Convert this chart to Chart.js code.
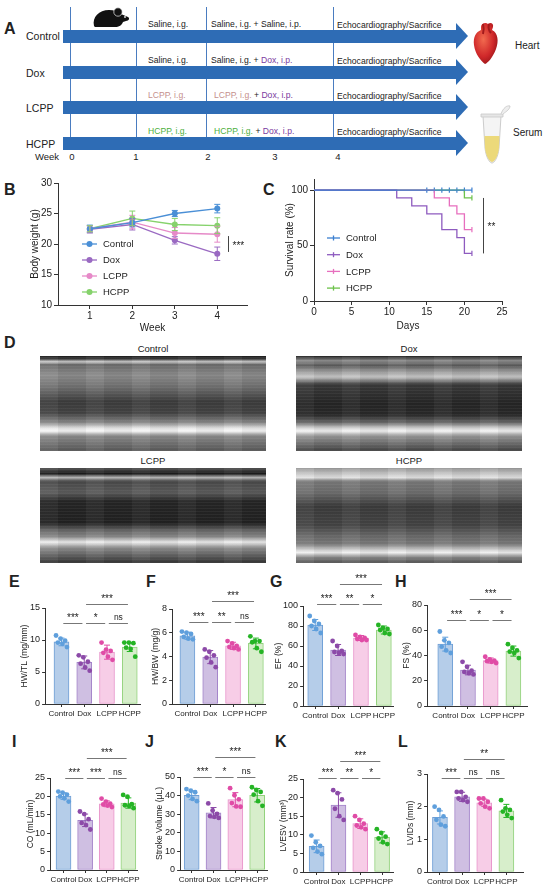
<!DOCTYPE html>
<html>
<head>
<meta charset="utf-8">
<script src="https://cdn.jsdelivr.net/npm/chart.js@4.4.1/dist/chart.umd.min.js"></script>
<style>
  body { margin: 0; background: #fff; font-family: 'Liberation Sans', Arial, sans-serif; color: #222; }
  #fig { position: relative; width: 550px; height: 889px; overflow: hidden; }
  .abs { position: absolute; white-space: nowrap; line-height: 1; color: #222; font-weight: normal; }
  .ttl { position: absolute; width: 120px; text-align: center; line-height: 10px; height: 10px; color: #222; font-size: 9.5px; }
  .lab { position: absolute; font-weight: bold; font-size: 16px; line-height: 1; transform: translateY(-50%); }
  canvas { position: absolute; }
  .vline { position: absolute; width: 1px; background: #4a7cc0; }
  .shaft { position: absolute; height: 13px; background: #2e6cb5; }
  .head { position: absolute; width: 0; height: 0; border-left: 12px solid #2e6cb5; border-top: 13px solid transparent; border-bottom: 13px solid transparent; }
  .echo { position: absolute; width: 226px; height: 95px; }
  .purple { color: #7a3b9e; }
  .rose { color: #c58f8c; }
  .green { color: #4caf3c; }
</style>
</head>
<body>
<div id="fig"></div>
<script>
const FONT = "'Liberation Sans', Arial, sans-serif";
Chart.defaults.font.family = FONT;
Chart.defaults.color = '#222';

const groups = ['Control', 'Dox', 'LCPP', 'HCPP'];

// B: body weight
const weeks = [1, 2, 3, 4];
const bwTicks = [10, 15, 20, 25, 30];
const bwControl = [22.5, 23.5, 25.0, 25.8];
const bwControlSd = [0.6, 0.7, 0.5, 0.7];
const bwDox = [22.4, 23.2, 20.6, 18.4];
const bwDoxSd = [0.6, 0.9, 0.6, 1.1];
const bwLcpp = [22.5, 23.6, 21.8, 21.6];
const bwLcppSd = [0.5, 1.1, 0.9, 1.3];
const bwHcpp = [22.5, 24.2, 23.2, 23.0];
const bwHcppSd = [0.5, 1.2, 1.0, 1.3];

// C: survival
const dayTicks = [0, 5, 10, 15, 20, 25];
const survTicks = [0, 50, 100];
const ctrlDays = [0, 21];
const ctrlSurv = [100, 100];
const doxDays = [0, 11, 13, 15, 17, 19, 20, 21];
const doxSurv = [100, 92.9, 85.7, 78.6, 64.3, 57.1, 42.9, 42.9];
const lcppDays = [0, 16, 18, 19, 20, 21];
const lcppSurv = [100, 92.9, 85.7, 78.6, 64.3, 64.3];
const hcppDays = [0, 20, 21];
const hcppSurv = [100, 92.9, 92.9];
const ctrlCensor = [15, 16, 17, 18, 19, 20, 21];
const doxCensor = [21];
const lcppCensor = [21];
const hcppCensor = [21];

// E: HW/TL
const hwtlTicks = [0, 5, 10, 15];
const hwtlMean = [9.7, 6.5, 8.1, 8.9];
const hwtlSd = [0.6, 1.0, 1.1, 0.7];
const hwtlDots = [[10.7, 10.2, 9.9, 9.6, 9.4, 8.9], [7.6, 7.3, 6.6, 6.3, 5.7, 5.2], [9.6, 8.5, 8.3, 8.0, 7.4, 6.9], [9.6, 9.6, 9.5, 8.8, 8.6, 7.4]];
const hwtlSig = [[1, 2, '***', 12.66], [2, 3, '*', 12.66], [3, 4, 'ns', 12.66], [2, 4, '***', 15.6]];

// F: HW/BW
const hwbwTicks = [0, 2, 4, 6, 8];
const hwbwMean = [5.75, 3.95, 4.9, 5.1];
const hwbwSd = [0.3, 0.55, 0.3, 0.45];
const hwbwDots = [[6.1, 6.0, 5.9, 5.65, 5.5, 5.45], [4.6, 4.4, 4.1, 3.9, 3.5, 3.1], [5.3, 5.1, 4.9, 4.8, 4.7, 4.6], [5.7, 5.3, 5.3, 5.2, 4.7, 4.4]];
const hwbwSig = [[1, 2, '***', 6.9], [2, 3, '**', 6.9], [3, 4, 'ns', 6.9], [2, 4, '***', 8.65]];

// G: EF
const efTicks = [0, 20, 40, 60, 80, 100];
const efMean = [81, 56, 68, 76];
const efSd = [5.5, 5.5, 2.5, 4];
const efDots = [[90, 85, 82, 80, 77, 73], [65, 60, 55, 54, 53, 52], [71, 69, 68, 67, 66, 66], [81, 78, 77, 76, 73, 72]];
const efSig = [[1, 2, '***', 102], [2, 3, '**', 102], [3, 4, '*', 102], [2, 4, '***', 122]];

// H: FS
const fsTicks = [0, 20, 40, 60, 80];
const fsMean = [49, 28.5, 36, 43.5];
const fsSd = [5.5, 3.8, 2.0, 4.0];
const fsDots = [[59, 52, 50, 47, 44, 42], [35, 31, 28, 27, 26, 25], [39, 37, 36, 35.5, 35, 34], [49, 46, 44, 43, 42, 38]];
const fsSig = [[1, 2, '***', 68], [2, 3, '*', 68], [3, 4, '*', 68], [2, 4, '***', 85]];

// I: CO
const coTicks = [0, 5, 10, 15, 20, 25];
const coMean = [20.1, 13.5, 18.0, 18.2];
const coSd = [0.9, 1.7, 0.8, 1.4];
const coDots = [[21.3, 21.0, 20.5, 20.0, 19.5, 18.6], [15.9, 15.2, 13.8, 12.8, 12.2, 11.0], [19.4, 18.6, 18.0, 17.8, 17.5, 17.1], [20.4, 19.9, 17.9, 17.6, 17.4, 16.8]];
const coSig = [[1, 2, '***', 25], [2, 3, '***', 25], [3, 4, 'ns', 25], [2, 4, '***', 30.4]];

// J: stroke volume
const svTicks = [0, 10, 20, 30, 40, 50];
const svMean = [40.2, 30.8, 37.8, 40.2];
const svSd = [2.4, 2.8, 3.8, 3.6];
const svDots = [[43.5, 42.6, 41.8, 40.0, 38.2, 37.0], [35.8, 32.0, 30.2, 29.0, 28.6, 28.0], [44.0, 40.2, 38.0, 36.0, 34.2, 34.0], [44.5, 43.0, 42.0, 40.5, 37.0, 34.5]];
const svSig = [[1, 2, '***', 50.2], [2, 3, '*', 50.2], [3, 4, 'ns', 50.2], [2, 4, '***', 61]];

// K: LVESV
const lvesvTicks = [0, 5, 10, 15, 20, 25];
const lvesvMean = [6.9, 18.0, 13.0, 9.3];
const lvesvSd = [1.7, 3.3, 1.3, 1.5];
const lvesvDots = [[9.8, 8.0, 7.0, 6.5, 5.5, 4.8], [22.0, 21.2, 19.5, 17.0, 15.0, 14.0], [15.0, 14.0, 13.0, 12.5, 12.0, 11.5], [11.5, 10.5, 9.5, 9.0, 8.0, 7.5]];
const lvesvSig = [[1, 2, '***', 25.3], [2, 3, '**', 25.3], [3, 4, '*', 25.3], [2, 4, '***', 29.8]];

// L: LVIDs
const lvidsTicks = [0, 1, 2, 3];
const lvidsMean = [1.67, 2.30, 2.12, 1.87];
const lvidsSd = [0.2, 0.14, 0.11, 0.2];
const lvidsDots = [[2.0, 1.9, 1.7, 1.6, 1.45, 1.4], [2.45, 2.45, 2.3, 2.25, 2.2, 2.15], [2.25, 2.25, 2.15, 2.1, 2.0, 1.95], [2.2, 1.95, 1.9, 1.85, 1.75, 1.65]];
const lvidsSig = [[1, 2, '***', 2.87], [2, 3, 'ns', 2.87], [3, 4, 'ns', 2.87], [2, 4, '**', 3.46]];

const lineColors = ['#4a8fd6', '#9a6ac2', '#e68ac8', '#86d26c'];
const survColors = ['#3b7fd0', '#8e5bbf', '#e76fbe', '#6cc24a'];
const barFill = ['#b5cde9', '#cfbfe2', '#f7cde7', '#d7eecb'];
const barEdge = ['#6f9fd6', '#a383c9', '#e894cb', '#93d27d'];
const dotColors = ['#5f9fdc', '#8c4aa8', '#e04ca6', '#25b425'];

const fig = document.getElementById('fig');

function txt(html, x, y, size, extra) {
  const d = document.createElement('div');
  d.className = 'abs';
  d.innerHTML = html;
  d.style.left = x + 'px';
  d.style.top = y + 'px';
  d.style.fontSize = size + 'px';
  d.style.transform = (extra && extra.center) ? 'translate(-50%,-50%)' : 'translateY(-50%)';
  fig.appendChild(d);
  return d;
}
function label(ch, x, y) {
  const d = document.createElement('div');
  d.className = 'lab';
  d.textContent = ch;
  d.style.left = x + 'px';
  d.style.top = y + 'px';
  fig.appendChild(d);
}
function makeCanvas(left, top, w, h) {
  const c = document.createElement('canvas');
  c.width = Math.round(w);
  c.height = Math.round(h);
  c.style.left = left + 'px';
  c.style.top = top + 'px';
  fig.appendChild(c);
  return c;
}

// ---------- panel A (schematic) ----------
label('A', 4, 29);
const rowY = [36, 72, 107, 143];
[70, 136, 206, 333].forEach(x => {
  const v = document.createElement('div');
  v.className = 'vline';
  v.style.left = x + 'px'; v.style.top = '7px'; v.style.height = '130px';
  fig.appendChild(v);
});
rowY.forEach(cy => {
  const s = document.createElement('div');
  s.className = 'shaft';
  s.style.left = '63px'; s.style.width = '393px'; s.style.top = (cy - 6.5) + 'px';
  fig.appendChild(s);
  const h = document.createElement('div');
  h.className = 'head';
  h.style.left = '456px'; h.style.top = (cy - 13) + 'px';
  fig.appendChild(h);
});
const firstText = ['Saline, i.g.', 'Saline, i.g.', '<span class="rose">LCPP, i.g.</span>', '<span class="green">HCPP, i.g.</span>'];
const secondText = ['Saline, i.g. + Saline, i.p.', 'Saline, i.g. + <span class="purple">Dox, i.p.</span>',
  '<span class="rose">LCPP, i.g.</span> + <span class="purple">Dox, i.p.</span>',
  '<span class="green">HCPP, i.g.</span> + <span class="purple">Dox, i.p.</span>'];
groups.forEach((g, i) => {
  txt(g, 26, rowY[i] + (i === 0 ? 0 : 1), 10.5);
  txt(firstText[i], 148, rowY[i] - 12, 8.6);
  txt(secondText[i], i < 2 ? 211 : 214, rowY[i] - 12, 8.6);
  txt('Echocardiography/Sacrifice', 337, rowY[i] - 11, 8.6);
});
txt('Week', 35, 157, 9.5);
[['0', 72], ['1', 136], ['2', 208], ['3', 275], ['4', 338]].forEach(w => txt(w[0], w[1], 157, 9.5, {center: true}));
txt('Heart', 515, 46, 10);
txt('Serum', 513, 133, 10);
// icons
const icons = document.createElement('div');
icons.innerHTML =
  '<svg class="abs" style="left:91px;top:5px" width="40" height="24" viewBox="0 0 40 24">' +
  '<path d="M3 21 C1 12 8 5 18 5 C23 5 27 6 30 9 L37 12 C39 13 38 16 35 16 L32 17 C31 20 28 22 24 22 L7 22 C5 22 3 22 3 21Z" fill="#111"/>' +
  '<circle cx="27" cy="7" r="4.2" fill="#111" stroke="#eee" stroke-width="0.7"/>' +
  '<circle cx="34" cy="12" r="0.9" fill="#eee"/></svg>' +
  '<svg class="abs" style="left:472px;top:21px" width="28" height="44" viewBox="0 0 28 44">' +
  '<defs><radialGradient id="hg" cx="0.4" cy="0.4" r="0.7"><stop offset="0" stop-color="#f26b4f"/><stop offset="0.6" stop-color="#d0282a"/><stop offset="1" stop-color="#8e1116"/></radialGradient></defs>' +
  '<path d="M9 6 C9 2 14 1 16 3 C18 1 22 2 21 6 L20 9 C26 12 27 20 24 28 C21 36 16 42 13 43 C9 40 3 33 2 24 C1 16 4 11 9 9Z" fill="url(#hg)"/>' +
  '<path d="M11 3 C12 7 12 10 11 13 M17 3 C16 7 17 10 19 12" stroke="#a31a1c" stroke-width="2" fill="none"/></svg>' +
  '<svg class="abs" style="left:477px;top:102px" width="34" height="62" viewBox="0 0 34 62">' +
  '<path d="M6 14 L24 14 L22 46 C21 56 17 61 15 61 C13 61 9 56 8 46 Z" fill="#f4f4f4" stroke="#ccc" stroke-width="1"/>' +
  '<path d="M7.5 34 L22.5 34 L22 46 C21 55 17 60 15 60 C13 60 9 55 8 46 Z" fill="#ecd97a"/>' +
  '<path d="M4 12 L26 12 L26 15 L4 15 Z" fill="#e6e6e6" stroke="#c8c8c8" stroke-width="0.8"/>' +
  '<path d="M24 12 C26 6 30 3 33 4 C33 7 30 9 26 12" fill="#eee" stroke="#c8c8c8" stroke-width="0.8"/></svg>';
while (icons.firstChild) fig.appendChild(icons.firstChild);

// ---------- panel D (echo images) ----------
label('D', 4, 343);
const beat = 'repeating-linear-gradient(90deg, rgba(255,255,255,0.035) 0 18px, rgba(0,0,0,0.05) 18px 46px), ';
const grain = 'repeating-linear-gradient(0deg, rgba(255,255,255,0.05) 0 1px, rgba(0,0,0,0) 1px 3px), ';
const echoStyles = [
  beat + grain + 'linear-gradient(180deg, #1e1e1e 0%, #3a3a3a 3%, #cfcfcf 6%, #6d6d6d 9%, #8c8c8c 20%, #707070 33%, #3d3d3d 48%, #444 60%, #8a8a8a 70%, #e9e9e9 76%, #f8f8f8 79%, #8c8c8c 84%, #5a5a5a 100%)',
  beat + grain + 'linear-gradient(180deg, #222 0%, #8e8e8e 5%, #5d5d5d 10%, #9a9a9a 16%, #c9c9c9 22%, #3b3b3b 30%, #262626 50%, #2a2a2a 62%, #6a6a6a 70%, #d8d8d8 76%, #f5f5f5 79%, #999 84%, #454545 100%)',
  beat + grain + 'linear-gradient(180deg, #555 0%, #1a1a1a 6%, #b9b9b9 10%, #4a4a4a 14%, #5c5c5c 26%, #262626 35%, #222 58%, #6a6a6a 66%, #888 72%, #f0f0f0 78%, #909090 84%, #333 100%)',
  beat + grain + 'linear-gradient(180deg, #9a9a9a 0%, #c8c8c8 6%, #e3e3e3 10%, #7a7a7a 14%, #6e6e6e 26%, #3c3c3c 40%, #444 60%, #6c6c6c 72%, #7c7c7c 80%, #dcdcdc 87%, #f0f0f0 89%, #888 94%, #555 100%)'
];
const echoPos = [[40, 356], [296, 356], [40, 468], [296, 468]];
groups.forEach((g, i) => {
  const e = document.createElement('div');
  e.className = 'echo';
  e.style.left = echoPos[i][0] + 'px';
  e.style.top = echoPos[i][1] + 'px';
  e.style.background = echoStyles[i];
  fig.appendChild(e);
  const t = document.createElement('div');
  t.className = 'ttl';
  t.textContent = g;
  t.style.left = (echoPos[i][0] + 53) + 'px';
  t.style.top = (echoPos[i][1] - 12) + 'px';
  fig.appendChild(t);
});

// ---------- plugins ----------
const errorBars = {
  id: 'errorBars',
  draw(chart, opts) {
    const {ctx, scales: {x, y}} = chart;
    ctx.save();
    ctx.lineWidth = 1;
    opts.items.forEach(it => {
      const px = x.getPixelForValue(it.x);
      const t = y.getPixelForValue(it.y + it.sd), b = y.getPixelForValue(it.y - it.sd);
      ctx.strokeStyle = it.color;
      ctx.beginPath();
      ctx.moveTo(px, t); ctx.lineTo(px, b);
      ctx.moveTo(px - opts.cap, t); ctx.lineTo(px + opts.cap, t);
      ctx.moveTo(px - opts.cap, b); ctx.lineTo(px + opts.cap, b);
      ctx.stroke();
    });
    ctx.restore();
  },
  afterDatasetDraw(chart, args, opts) {
    if (opts.items && opts.under && args.meta.type === 'bar') this.draw(chart, opts);
  },
  afterDatasetsDraw(chart, args, opts) {
    if (opts.items && !opts.under) this.draw(chart, opts);
  }
};

const brackets = {
  id: 'brackets',
  afterDraw(chart, args, opts) {
    if (!opts.items) return;
    const {ctx, scales: {x, y}} = chart;
    ctx.save();
    ctx.strokeStyle = '#777';
    ctx.fillStyle = '#222';
    ctx.lineWidth = 1;
    ctx.textAlign = 'center';
    ctx.textBaseline = 'bottom';
    opts.items.forEach(b => {
      const x1 = x.getPixelForValue(b[0] + 0.08), x2 = x.getPixelForValue(b[1] - 0.08);
      const py = Math.round(y.getPixelForValue(b[3])) + 0.5;
      ctx.beginPath(); ctx.moveTo(x1, py); ctx.lineTo(x2, py); ctx.stroke();
      ctx.font = (b[2] === 'ns' ? '8.5px ' : '10px ') + FONT;
      ctx.fillText(b[2], (x1 + x2) / 2, py - (b[2] === 'ns' ? 1.5 : 0));
    });
    ctx.restore();
  }
};

const sideMark = {
  id: 'sideMark',
  afterDraw(chart, args, opts) {
    if (!opts.label) return;
    const {ctx, scales: {x, y}} = chart;
    const px = Math.round(x.getPixelForValue(opts.x)) + 0.5;
    const y1 = y.getPixelForValue(opts.from), y2 = y.getPixelForValue(opts.to);
    ctx.save();
    ctx.strokeStyle = '#444'; ctx.lineWidth = 1;
    ctx.beginPath(); ctx.moveTo(px, y1); ctx.lineTo(px, y2); ctx.stroke();
    ctx.fillStyle = '#222'; ctx.font = '10px ' + FONT;
    ctx.textAlign = 'left'; ctx.textBaseline = 'middle';
    ctx.fillText(opts.label, px + 4, (y1 + y2) / 2 + 2);
    ctx.restore();
  }
};

const innerLegend = {
  id: 'innerLegend',
  afterDraw(chart, args, opts) {
    if (!opts.labels) return;
    const {ctx, chartArea} = chart;
    ctx.save();
    ctx.font = opts.size + 'px ' + FONT;
    ctx.textBaseline = 'middle';
    ctx.textAlign = 'left';
    opts.labels.forEach((lab, i) => {
      const col = opts.colors[i];
      const yy = chartArea.top + opts.y + i * opts.gap;
      const x0 = chartArea.left + opts.x;
      ctx.strokeStyle = col; ctx.fillStyle = col; ctx.lineWidth = 1.3;
      ctx.beginPath(); ctx.moveTo(x0, yy); ctx.lineTo(x0 + opts.len, yy); ctx.stroke();
      if (opts.marker === 'circle') {
        ctx.beginPath(); ctx.arc(x0 + opts.len / 2, yy, 3, 0, Math.PI * 2); ctx.fill();
      } else {
        ctx.beginPath(); ctx.moveTo(x0 + opts.len / 2, yy - 2.5); ctx.lineTo(x0 + opts.len / 2, yy + 2.5); ctx.stroke();
      }
      ctx.fillStyle = '#222';
      ctx.fillText(lab, x0 + opts.len + 6, yy + 0.5);
    });
    ctx.restore();
  }
};

Chart.register(errorBars, brackets, sideMark, innerLegend);

function axis(size, ticks, fit) {
  return {
    type: 'linear',
    offset: false,
    border: {display: true, color: '#333', width: 1},
    grid: {display: true, offset: false, drawOnChartArea: false, drawTicks: true, tickLength: 3, color: '#333'},
    ticks: {color: '#222', font: {size: size}, padding: 2, autoSkip: false, maxRotation: 0, minRotation: 0},
    afterBuildTicks: s => { s.ticks = ticks.map(v => ({value: v})); },
    afterFit: fit
  };
}

// ---------- panel B ----------
label('B', 4, 190);
(function () {
  const area = {l: 58, r: 247, t: 183, b: 305};
  const lh = 12, left = 35 - lh / 2, yw = area.l - left, pt = 8, pr = 12, xh = 334 - area.b;
  const cv = makeCanvas(left, area.t - pt, yw + area.r - area.l + pr, pt + area.b - area.t + xh);
  const series = [bwControl, bwDox, bwLcpp, bwHcpp];
  const sds = [bwControlSd, bwDoxSd, bwLcppSd, bwHcppSd];
  const items = [];
  series.forEach((s, si) => s.forEach((v, i) => items.push({x: weeks[i], y: v, sd: sds[si][i], color: lineColors[si]})));
  const xa = axis(10, weeks, s => { s.height = xh; s.paddingLeft = 0; s.paddingRight = 0; });
  xa.min = 0.25; xa.max = 4.7; xa.ticks.padding = 1; xa.grid.tickLength = 4;
  xa.title = {display: true, text: 'Week', font: {size: 10}, padding: 0, color: '#222'};
  const ya = axis(10, bwTicks, s => { s.width = yw; s.paddingTop = 0; s.paddingBottom = 0; });
  ya.min = 10; ya.max = 30; ya.grid.tickLength = 4;
  ya.title = {display: true, text: 'Body weight (g)', font: {size: 10}, padding: 0, color: '#222'};
  new Chart(cv, {
    type: 'line',
    data: {
      datasets: series.map((s, si) => ({
        label: groups[si],
        data: s.map((v, i) => ({x: weeks[i], y: v})),
        borderColor: lineColors[si], backgroundColor: lineColors[si],
        borderWidth: 1.3, pointRadius: 3, pointBorderWidth: 0, fill: false, tension: 0
      }))
    },
    options: {
      responsive: false, animation: false,
      layout: {padding: {top: pt, right: pr, left: 0, bottom: 0}},
      scales: {x: xa, y: ya},
      plugins: {
        legend: {display: false}, tooltip: {enabled: false},
        errorBars: {items: items, cap: 3},
        sideMark: {x: 4.26, from: 18.7, to: 21.3, label: '***'},
        innerLegend: {labels: groups, colors: lineColors, x: 24, y: 61, gap: 16, len: 15, size: 9.5, marker: 'circle'}
      }
    }
  });
})();

// ---------- panel C ----------
label('C', 263, 190);
(function () {
  const area = {l: 314, r: 502, t: 179, b: 301};
  const lh = 12, left = 290 - lh / 2, yw = area.l - left, pt = 6, pr = 14, xh = 332 - area.b;
  const cv = makeCanvas(left, area.t - pt, yw + area.r - area.l + pr, pt + area.b - area.t + xh);
  const steps = [[ctrlDays, ctrlSurv], [doxDays, doxSurv], [lcppDays, lcppSurv], [hcppDays, hcppSurv]];
  const censors = [ctrlCensor, doxCensor, lcppCensor, hcppCensor];
  const datasets = steps.map((s, si) => ({
    type: 'line', label: groups[si],
    data: s[0].map((d, i) => ({x: d, y: s[1][i]})),
    borderColor: survColors[si], borderWidth: 1.3, pointRadius: 0, stepped: 'before', fill: false
  }));
  censors.forEach((c, si) => datasets.push({
    type: 'scatter', label: groups[si] + ' censored',
    data: c.map(d => ({x: d, y: steps[si][1][steps[si][1].length - 1]})),
    pointStyle: 'line', rotation: 90, pointRadius: 2.6, borderColor: survColors[si], pointBorderWidth: 1.2
  }));
  const xa = axis(10, dayTicks, s => { s.height = xh; s.paddingLeft = 0; s.paddingRight = 0; });
  xa.min = 0; xa.max = 25; xa.ticks.padding = 1; xa.grid.tickLength = 4;
  xa.title = {display: true, text: 'Days', font: {size: 10}, padding: 0, color: '#222'};
  const ya = axis(10, survTicks, s => { s.width = yw; s.paddingTop = 0; s.paddingBottom = 0; });
  ya.min = 0; ya.max = 110; ya.grid.tickLength = 4;
  ya.title = {display: true, text: 'Survival rate (%)', font: {size: 10}, padding: 0, color: '#222'};
  new Chart(cv, {
    type: 'line',
    data: {datasets: datasets},
    options: {
      responsive: false, animation: false,
      layout: {padding: {top: pt, right: pr, left: 0, bottom: 0}},
      scales: {x: xa, y: ya},
      plugins: {
        legend: {display: false}, tooltip: {enabled: false},
        sideMark: {x: 22.5, from: 42.9, to: 92.9, label: '**'},
        innerLegend: {labels: groups, colors: survColors, x: 13, y: 59, gap: 16.7, len: 13, size: 9.5, marker: 'tick'}
      }
    }
  });
})();

// ---------- bar panels E-L ----------
function barPanel(cfg) {
  const fs = 8.5, lh = fs * 1.2;
  const left = cfg.titleX - lh / 2;
  const yw = cfg.area.l - left, pt = 36, pr = 14, xh = 20;
  const cv = makeCanvas(left, cfg.area.t - pt, yw + cfg.area.r - cfg.area.l + pr, pt + cfg.area.b - cfg.area.t + xh);
  const dots = [];
  cfg.dots.forEach((g, gi) => g.forEach((v, i) => dots.push({x: gi + 1 + ((i % 3) - 1) * 0.2 + (i > 2 ? 0.04 : -0.04), y: v})));
  const items = cfg.mean.map((m, i) => ({x: i + 1, y: m, sd: cfg.sd[i], color: dotColors[i]}));
  const xa = axis(8, [1, 2, 3, 4], s => { s.height = xh; s.paddingLeft = 0; s.paddingRight = 0; });
  xa.min = cfg.xMin; xa.max = cfg.xMax;
  xa.ticks.callback = v => groups[v - 1];
  const ya = axis(9, cfg.ticks, s => { s.width = yw; s.paddingTop = 0; s.paddingBottom = 0; });
  ya.min = 0; ya.max = cfg.ticks[cfg.ticks.length - 1];
  ya.title = {display: true, text: cfg.title, font: {size: fs}, padding: 0, color: '#222'};
  new Chart(cv, {
    type: 'bar',
    data: {
      datasets: [
        {type: 'scatter', data: dots, pointRadius: 2.4, pointBorderWidth: 0,
          pointBackgroundColor: ctx => dotColors[Math.round(ctx.raw.x) - 1], order: 0},
        {type: 'bar', data: cfg.mean.map((m, i) => ({x: i + 1, y: m})),
          backgroundColor: barFill, borderColor: barEdge, borderWidth: 1, borderSkipped: false,
          barThickness: 15, order: 1}
      ]
    },
    options: {
      responsive: false, animation: false,
      layout: {padding: {top: pt, right: pr, left: 0, bottom: 0}},
      scales: {x: xa, y: ya},
      plugins: {
        legend: {display: false}, tooltip: {enabled: false},
        errorBars: {items: items, cap: 3, under: true},
        brackets: {items: cfg.sig}
      }
    }
  });
}

label('E', 9, 582); label('F', 146, 582); label('G', 270, 582); label('H', 395, 582);
label('I', 12, 742); label('J', 145, 742); label('K', 275, 742); label('L', 398, 742);

barPanel({area: {l: 45, r: 140, t: 608, b: 704}, xMin: 0.28, xMax: 4.45, titleX: 25, title: 'HW/TL (mg/mm)',
  ticks: hwtlTicks, mean: hwtlMean, sd: hwtlSd, dots: hwtlDots, sig: hwtlSig});
barPanel({area: {l: 172, r: 265, t: 609, b: 704}, xMin: 0.33, xMax: 4.4, titleX: 156, title: 'HW/BW (mg/g)',
  ticks: hwbwTicks, mean: hwbwMean, sd: hwbwSd, dots: hwbwDots, sig: hwbwSig});
barPanel({area: {l: 303, r: 393, t: 606, b: 706}, xMin: 0.47, xMax: 4.4, titleX: 279, title: 'EF (%)',
  ticks: efTicks, mean: efMean, sd: efSd, dots: efDots, sig: efSig});
barPanel({area: {l: 427, r: 527, t: 605, b: 706}, xMin: 0.2, xMax: 4.6, titleX: 407, title: 'FS (%)',
  ticks: fsTicks, mean: fsMean, sd: fsSd, dots: fsDots, sig: fsSig});
barPanel({area: {l: 50, r: 137, t: 778, b: 870}, xMin: 0.38, xMax: 4.4, titleX: 31, title: 'CO (mL/min)',
  ticks: coTicks, mean: coMean, sd: coSd, dots: coDots, sig: coSig});
barPanel({area: {l: 180, r: 267, t: 777, b: 870}, xMin: 0.47, xMax: 4.45, titleX: 160, title: 'Stroke Volume (μL)',
  ticks: svTicks, mean: svMean, sd: svSd, dots: svDots, sig: svSig});
barPanel({area: {l: 303, r: 393, t: 779, b: 872}, xMin: 0.38, xMax: 4.5, titleX: 284, title: 'LVESV (mm³)',
  ticks: lvesvTicks, mean: lvesvMean, sd: lvesvSd, dots: lvesvDots, sig: lvesvSig});
barPanel({area: {l: 427, r: 523, t: 774, b: 872}, xMin: 0.42, xMax: 4.75, titleX: 411, title: 'LVIDs (mm)',
  ticks: lvidsTicks, mean: lvidsMean, sd: lvidsSd, dots: lvidsDots, sig: lvidsSig});
</script>
</body>
</html>
